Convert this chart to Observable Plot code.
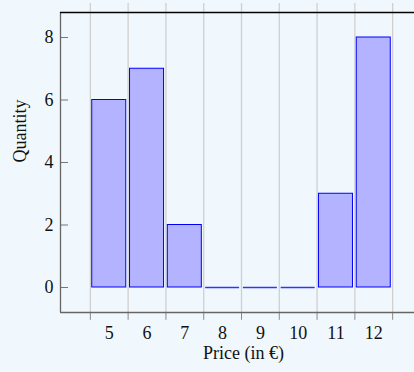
<!DOCTYPE html>
<html>
<head>
<meta charset="utf-8">
<script src="https://cdn.jsdelivr.net/npm/d3@7"></script>
<script src="https://cdn.jsdelivr.net/npm/@observablehq/plot@0.6"></script>
<style>
  html, body { margin: 0; padding: 0; background: #f0f8fe; }
  #chart svg { display: block; }
  #chart svg text { font-family: 'Liberation Serif', 'Times New Roman', serif; fill: #111; }
</style>
</head>
<body>
<div id="chart"></div>
<script>
const prices = [5, 6, 7, 8, 9, 10, 11, 12];
const quantities = [6, 7, 2, 0, 0, 0, 3, 8];
const yTicks = [0, 2, 4, 6, 8];
const xTitle = "Price (in €)";
const yTitle = "Quantity";

const data = prices.map((p, i) => ({price: p, qty: quantities[i]}));
const bounds = d3.range(4.5, 13, 1);
const xDom = [3.71, 13.29];
const yDom = [-0.8, 8.8];
const font = "'Liberation Serif', 'Times New Roman', serif";

const chart = Plot.plot({
  width: 414,
  height: 372,
  marginLeft: 60,
  marginRight: 0,
  marginTop: 12,
  marginBottom: 60,
  style: {background: "#f0f8fe", fontFamily: font, fontSize: "18px", color: "#111"},
  x: {domain: xDom, range: [60, 422]},
  y: {domain: yDom, range: [312, 12]},
  marks: [
    Plot.ruleX(bounds, {y1: yDom[0], y2: 9.09, stroke: "#cfcfcf", strokeWidth: 1.3}),
    Plot.ruleX(bounds, {y1: yDom[0], y2: -1.05, stroke: "#8a8a8a", strokeWidth: 1}),
    Plot.rectY(data.filter(d => d.qty > 0), {x1: d => d.price - 0.45, x2: d => d.price + 0.45, y1: 0, y2: "qty",
      fill: "#b3b3ff", stroke: "#0000ff", strokeWidth: 1}),
    Plot.ruleY(data.filter(d => d.qty === 0), {x1: d => d.price - 0.45, x2: d => d.price + 0.45, y: "qty",
      stroke: "#3333ff", strokeWidth: 1.3}),
    Plot.ruleY(yTicks, {x1: xDom[0], x2: xDom[0] + 8 / 37.75, stroke: "#777"}),
    Plot.ruleX([xDom[0]], {y1: yDom[0], y2: yDom[1], stroke: "#666", strokeWidth: 1.3}),
    Plot.ruleY([yDom[0]], {x1: xDom[0], x2: xDom[1], stroke: "#666", strokeWidth: 1.3}),
    Plot.ruleY([yDom[1]], {x1: xDom[0], x2: xDom[1], stroke: "#000", strokeWidth: 1.3}),
    Plot.axisY({ticks: yTicks, tickSize: 0, tickPadding: 7, label: null, fontSize: 18, fontFamily: font}),
    Plot.axisX({ticks: prices, tickSize: 0, tickPadding: 14, tickFormat: d => String(d), label: null, fontSize: 18, fontFamily: font}),
    Plot.text([xTitle], {frameAnchor: "bottom", dy: 46, text: d => d, fontSize: 18, fontFamily: font, x: 8.5, dx: 2, style: "letter-spacing:0.8px"}),
    Plot.text([yTitle], {frameAnchor: "left", dx: -40, rotate: -90, text: d => d, fontSize: 18, fontFamily: font, y: 4})
  ]
});
document.getElementById("chart").appendChild(chart);
</script>
</body>
</html>
